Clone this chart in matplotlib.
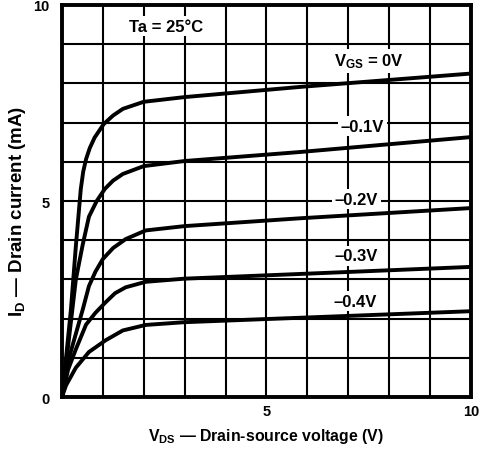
import matplotlib
matplotlib.use('Agg')
import matplotlib.pyplot as plt
import numpy as np

plt.rcParams['font.family'] = 'Liberation Sans'
plt.rcParams['font.weight'] = 'bold'
plt.rcParams['mathtext.fontset'] = 'custom'
plt.rcParams['mathtext.rm'] = 'Liberation Sans:bold'
plt.rcParams['mathtext.it'] = 'Liberation Sans:bold'
plt.rcParams['mathtext.bf'] = 'Liberation Sans:bold'

# I_D vs V_DS curves
vds_0 = [0, 0.1, 0.22, 0.34, 0.46, 0.52, 0.59, 0.68, 0.8, 1.02, 1.25, 1.49, 2.0, 3.0, 5.83, 10]
id_0 = [0, 1.0, 2.24, 3.85, 5.3, 5.75, 6.07, 6.35, 6.62, 6.96, 7.18, 7.35, 7.53, 7.65, 7.91, 8.25]

vds_1 = [0, 0.15, 0.34, 0.51, 0.66, 0.85, 1.05, 1.25, 1.49, 2.0, 3.0, 5.83, 10]
id_1 = [0, 1.3, 3.0, 3.9, 4.6, 5.0, 5.31, 5.52, 5.69, 5.89, 6.02, 6.25, 6.63]

vds_2 = [0, 0.2, 0.51, 0.66, 0.82, 1.0, 1.25, 1.56, 2.05, 3.0, 5.83, 10]
id_2 = [0, 1.1, 2.24, 2.83, 3.2, 3.52, 3.8, 4.03, 4.25, 4.36, 4.56, 4.82]

vds_3 = [0, 0.15, 0.34, 0.59, 0.82, 1.07, 1.3, 1.56, 2.05, 3.0, 5.83, 10]
id_3 = [0, 0.7, 1.22, 1.85, 2.15, 2.42, 2.65, 2.8, 2.94, 3.02, 3.14, 3.32]

vds_4 = [0, 0.1, 0.34, 0.66, 1.07, 1.49, 2.05, 3.0, 10]
id_4 = [0, 0.3, 0.75, 1.15, 1.45, 1.7, 1.84, 1.91, 2.19]

curves = [(vds_0, id_0), (vds_1, id_1), (vds_2, id_2), (vds_3, id_3), (vds_4, id_4)]

curve_labels = [r'V$_{\rm GS}$ = 0V', '\u20130.1V', '\u20130.2V', '\u20130.3V', '\u20130.4V']
label_x = [7.5, 7.34, 7.2, 7.2, 7.17]
label_y = [8.57, 6.91, 5.05, 3.6, 2.45]

fig = plt.figure(figsize=(4.84, 4.56), dpi=100)
ax = fig.add_axes([0.128, 0.127, 0.845, 0.86])

for x in np.arange(1, 10):
    ax.axvline(x, color='black', lw=1.5, zorder=1)
for y in np.arange(1, 10):
    ax.axhline(y, color='black', lw=1.5, zorder=1)

for vds, ids in curves:
    ax.plot(vds, ids, color='black', lw=2.8, solid_capstyle='round',
            solid_joinstyle='round', zorder=3)

for txt, x, y in zip(curve_labels, label_x, label_y):
    ax.text(x, y, txt, ha='center', va='center', fontsize=12, fontweight='bold',
            bbox=dict(facecolor='white', edgecolor='none', pad=2), zorder=4)

ax.text(2.54, 9.46, 'Ta = 25\u00b0C', ha='center', va='center', fontsize=12,
        fontweight='bold', bbox=dict(facecolor='white', edgecolor='none', pad=2), zorder=4)

ax.set_xlim(0, 10)
ax.set_ylim(0, 10)
ax.set_xticks([5, 10])
ax.set_yticks([0, 5, 10])
ax.tick_params(axis='y', length=0, labelsize=10.5, pad=9)
ax.tick_params(axis='x', length=0, labelsize=10.5, pad=5)
for s in ax.spines.values():
    s.set_linewidth(2.8)

fig.text(0.5 * (0.128 + 0.973), 1 - 437 / 456, 'V$_{\\rm DS}$ \u2014 Drain-source voltage (V)',
         ha='center', va='center', fontsize=11.4, fontweight='bold')
fig.text(18 / 484, 1 - 211 / 456, 'I$_{\\rm D}$ \u2014 Drain current (mA)',
         ha='center', va='center', rotation=90, fontsize=13.5, fontweight='bold')

fig.savefig('out.png', dpi=100)
